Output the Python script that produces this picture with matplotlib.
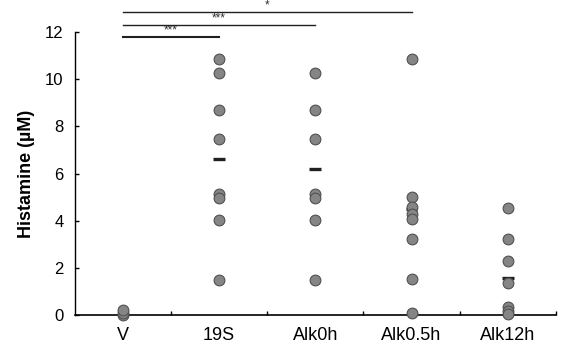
import matplotlib
matplotlib.use("Agg")
import matplotlib.pyplot as plt

plt.rcParams['font.family'] = ['Liberation Sans', 'DejaVu Sans']

categories = ["V", "19S", "Alk0h", "Alk0.5h", "Alk12h"]
v_vals = [0.0, 0.1, 0.2]
s19_vals = [10.85, 10.28, 8.68, 7.48, 5.13, 4.96, 4.04, 1.49]
alk0_vals = [10.28, 8.68, 7.48, 5.13, 4.96, 4.04, 1.49]
alk05_vals = [10.85, 5.0, 4.6, 4.3, 4.08, 3.22, 1.52, 0.1]
alk12_vals = [4.53, 3.21, 2.29, 1.34, 0.35, 0.15, 0.05]
series = [v_vals, s19_vals, alk0_vals, alk05_vals, alk12_vals]
means = [None, 6.6, 6.17, 4.5, 1.55]

sig_pairs = [(1, 2), (1, 3), (1, 4)]
sig_levels = [11.8, 12.3, 12.85]
sig_labels = ["***", "***", "*"]

yticks = [0, 2, 4, 6, 8, 10, 12]

fig = plt.figure(figsize=(5.64, 3.6), dpi=100)
ax = fig.add_axes([74.5 / 564, 45 / 360, (556 - 74.5) / 564, (315 - 32) / 360])

for i, vals in enumerate(series):
    x = [i + 1] * len(vals)
    ax.scatter(x, vals, s=60, facecolor='#858585', edgecolor='#505050',
               linewidths=0.8, zorder=3, clip_on=False)
    if means[i] is not None:
        ax.hlines(means[i], i + 1 - 0.06, i + 1 + 0.06, color='#202020',
                  lw=2.4, zorder=2)

for (a, b), lev, lab in zip(sig_pairs, sig_levels, sig_labels):
    ax.plot([a, b], [lev, lev], color='#202020', lw=1.5 if lev == sig_levels[0] else 1.0,
            clip_on=False, zorder=4)
    ax.text((a + b) / 2, lev + 0.02, lab, fontsize=8.5, ha='center',
            va='bottom', color='#303030', clip_on=False)

ax.set_xlim(0.5, 5.5)
ax.set_ylim(0, 12)
ax.set_yticks(yticks)
ax.set_yticklabels([str(t) for t in yticks], fontsize=12)
ax.set_xticks(range(1, 6))
ax.set_xticklabels(categories, fontsize=13)
ax.set_xticks([1.5, 2.5, 3.5, 4.5, 5.5], minor=True)
ax.tick_params(axis='x', which='major', length=0, pad=9)
ax.tick_params(axis='x', which='minor', direction='in', length=3, width=1)
ax.tick_params(axis='y', direction='in', length=3, width=1, pad=8)

for s in ['top', 'right']:
    ax.spines[s].set_visible(False)
ax.spines['left'].set_linewidth(1.0)
ax.spines['bottom'].set_linewidth(1.2)

ax.set_ylabel("Histamine (µM)", fontsize=13, fontweight='bold', labelpad=7)

fig.savefig("out.png", dpi=100)
